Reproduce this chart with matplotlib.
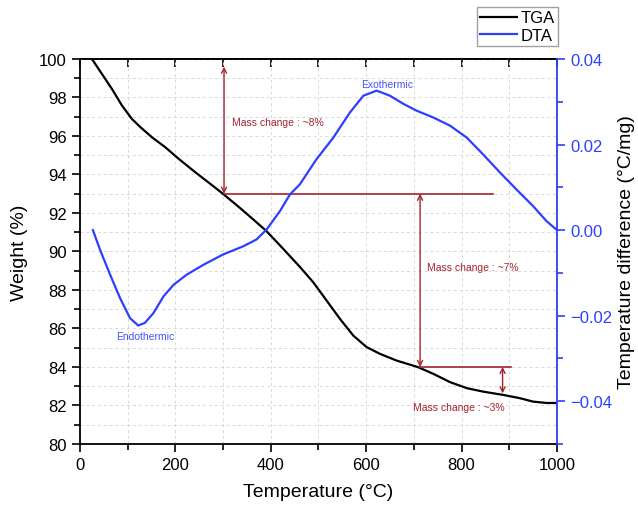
import matplotlib
matplotlib.use("Agg")
import matplotlib.pyplot as plt
import matplotlib.ticker as mticker

plt.rcParams['font.family'] = ['Liberation Sans', 'DejaVu Sans']

# TGA curve (left axis)
tga_temp = [25, 46, 67, 88, 109, 127, 151, 179, 207, 242, 278, 300, 334, 362, 390,
            418, 446, 461, 489, 517, 545, 573, 601, 629, 664, 709, 741, 776, 811,
            845, 887, 922, 950, 978, 1000]
tga_weight = [100.0, 99.22, 98.44, 97.58, 96.88, 96.45, 95.93, 95.41, 94.81, 94.11,
              93.42, 92.99, 92.29, 91.69, 91.08, 90.35, 89.6, 89.2, 88.4, 87.45,
              86.5, 85.63, 85.03, 84.68, 84.33, 83.99, 83.64, 83.21, 82.9, 82.72,
              82.55, 82.38, 82.2, 82.13, 82.13]

# DTA curve (right axis)
dta_temp = [27, 42, 63, 84, 105, 122, 136, 154, 175, 196, 224, 259, 300, 342, 370,
            391, 419, 440, 461, 496, 531, 566, 594, 622, 650, 678, 706, 741, 776,
            811, 845, 881, 915, 950, 978, 1000]
dta_diff = [0.0, -0.0046, -0.0104, -0.0159, -0.0206, -0.0223, -0.0217, -0.0194,
            -0.0155, -0.0128, -0.0104, -0.0081, -0.0057, -0.0038, -0.0022, 0.0001,
            0.0044, 0.0083, 0.0107, 0.0166, 0.0216, 0.0275, 0.0314, 0.0326, 0.0314,
            0.0295, 0.0279, 0.0263, 0.0244, 0.0216, 0.0177, 0.0134, 0.0095, 0.0056,
            0.0021, 0.0]

# mass change steps: (x of arrow, top, bottom)
step_x = [302, 713, 886]
step_top = [99.6, 93, 84]
step_bottom = [93, 84, 82.63]
step_labels = ['Mass change : ~8%', 'Mass change : ~7%', 'Mass change : ~3%']
label_pos = [(318, 96.7), (727, 89.2), (698, 81.9)]
# horizontal reference levels
levels = [93, 84]
level_start = [302, 713]
level_end = [865, 903]

red = '#a3242c'
blue = '#2b3fff'

fig = plt.figure(figsize=(6.38, 5.06), dpi=100)
ax = fig.add_axes([0.1254, 0.1206, 0.7476, 0.7609])
ax2 = ax.twinx()

ax.grid(True, which='both', color='#d8d8d8', linestyle=(0, (3, 3)), linewidth=0.7)
ax.set_axisbelow(True)

l1, = ax.plot(tga_temp, tga_weight, color='black', lw=1.6, label='TGA')
l2, = ax2.plot(dta_temp, dta_diff, color=blue, lw=1.6, label='DTA')

ax.set_xlim(0, 1000)
ax.set_ylim(80, 100)
ax2.set_ylim(-0.05, 0.04)

ax.xaxis.set_major_locator(mticker.MultipleLocator(200))
ax.xaxis.set_minor_locator(mticker.MultipleLocator(100))
ax.yaxis.set_major_locator(mticker.MultipleLocator(2))
ax.yaxis.set_minor_locator(mticker.MultipleLocator(1))
ax2.yaxis.set_major_locator(mticker.MultipleLocator(0.02))
ax2.yaxis.set_minor_locator(mticker.MultipleLocator(0.01))
ax2.yaxis.set_major_formatter(mticker.FuncFormatter(
    lambda v, p: f"{v:.2f}".replace('-', '\u2212') if abs(v) > 1e-9 else "0.00"))

ax.tick_params(which='both', direction='out', labelsize=12, width=1.2)
ax.tick_params(which='major', length=6)
ax.tick_params(which='minor', length=4)
ax2.tick_params(which='both', direction='out', labelsize=12, width=1.2,
                colors=blue)
ax2.tick_params(which='major', length=6)
ax2.tick_params(which='minor', length=4)

top = ax.secondary_xaxis('top')
top.xaxis.set_major_locator(mticker.MultipleLocator(100))
top.tick_params(direction='in', length=6, width=1.2, labeltop=False)

for s in ['left', 'bottom', 'top']:
    ax.spines[s].set_linewidth(1.3)
top.spines['top'].set_linewidth(1.3)
ax.spines['right'].set_visible(False)
for s in ['left', 'bottom', 'top']:
    ax2.spines[s].set_visible(False)
ax2.spines['right'].set_color(blue)
ax2.spines['right'].set_linewidth(1.3)

ax.set_xlabel('Temperature (°C)', fontsize=14, labelpad=8)
ax.set_ylabel('Weight (%)', fontsize=14, labelpad=8)
ax2.set_ylabel('Temperature difference (°C/mg)', fontsize=14, labelpad=4)

# mass change annotations
for lv, xs, xe in zip(levels, level_start, level_end):
    ax.plot([xs, xe], [lv, lv], color=red, lw=1.2)
for x, yt, yb in zip(step_x, step_top, step_bottom):
    ax.annotate('', xy=(x, yt), xytext=(x, yb),
                arrowprops=dict(arrowstyle='<->', color=red, lw=1.0,
                                shrinkA=0, shrinkB=0, mutation_scale=9))
for txt, (x, y) in zip(step_labels, label_pos):
    ax.text(x, y, txt, color=red, fontsize=7.5, ha='left', va='center')

ax.text(644, 98.7, 'Exothermic', color='#4455ee', fontsize=7.5, ha='center', va='center')
ax.text(136, 85.6, 'Endothermic', color='#4455ee', fontsize=7.5, ha='center', va='center')

fig.legend(handles=[l1, l2], loc='upper right', bbox_to_anchor=(0.8746, 0.984),
           fontsize=12, frameon=True, fancybox=False, edgecolor='#888888',
           handlelength=2.2, handletextpad=0.2, borderpad=0.2, labelspacing=0.15,
           borderaxespad=0)

fig.savefig('out.png', dpi=100)
